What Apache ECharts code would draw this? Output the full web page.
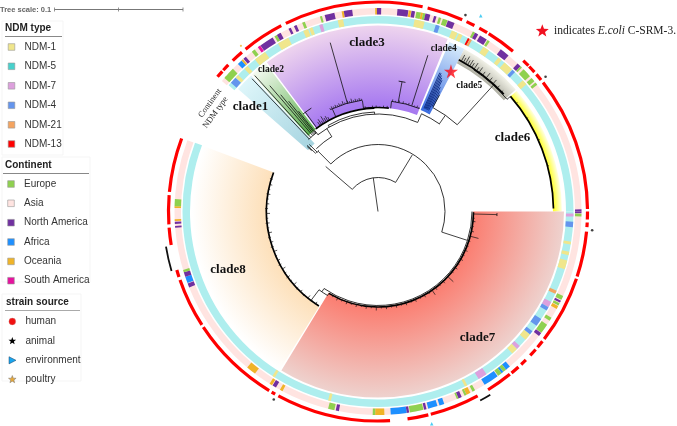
<!DOCTYPE html>
<html><head><meta charset="utf-8">
<style>html,body{margin:0;padding:0;background:#fff}#c{width:677px;height:426px}</style>
<script src="https://cdn.jsdelivr.net/npm/echarts@6/dist/echarts.min.js"></script>
</head><body><div id="c"></div>
<script>
// ---------- DATA (angles in degrees clockwise from 3 o'clock, radii in tree units) ----------
const ndmNames = ['NDM-1','NDM-5','NDM-7','NDM-4','NDM-21','NDM-13'];
const continentNames = ['Europe','Asia','North America','Africa','Oceania','South America'];
const sourceNames = ['human','animal','environment','poultry'];

const ndmBase = [[0,200.6],[220.2,360]];
const continentBase = [[0,200.5],[219.9,360]];

const ndmCells = [
 [0.6,1.5,'NDM-7'],[3,4.6,'NDM-4'],[8.9,9.7,'NDM-1'],[11.9,12.9,'NDM-1'],[14.5,17.2,'NDM-1'],[23.9,24.9,'NDM-21'],
 [27.6,29.3,'NDM-7'],[29.3,30.4,'NDM-4'],[33.4,35.8,'NDM-4'],[37.8,39,'NDM-4'],[39,41,'NDM-1'],[43.5,44.7,'NDM-7'],
 [44.7,46.6,'NDM-1'],[56.3,59,'NDM-7'],[62.8,63.6,'NDM-1'],[104,104.8,'NDM-1'],[121.9,122.7,'NDM-1'],
 [221.2,223.2,'NDM-4'],[223.3,224.3,'NDM-1'],[226.9,228.1,'NDM-1'],[231,234.7,'NDM-1'],[239.2,242.7,'NDM-1'],
 [247.5,249,'NDM-1'],[249.4,250.4,'NDM-1'],[252.5,253.5,'NDM-7'],[258.1,259.7,'NDM-1'],[280.8,283.8,'NDM-1'],
 [287.2,288.4,'NDM-4'],[292.2,294,'NDM-1'],[294.4,295.6,'NDM-1'],[297.4,298,'NDM-13'],[298,298.7,'NDM-21'],
 [302.6,304.6,'NDM-1'],[308,309.2,'NDM-1'],[310.3,313.3,'NDM-1'],[313.5,314.5,'NDM-4'],[317.8,319.4,'NDM-1']
];
const continentCells = [
 [359.4,360,'North America'],[0,0.5,'North America'],[0.6,1.4,'Europe'],[24.5,25.7,'Europe'],[26,26.6,'North America'],
 [26.8,27.5,'Europe'],[27.7,28.6,'Oceania'],[31.5,32.5,'Europe'],[33.8,36.6,'Europe'],[36.7,37.7,'North America'],
 [49.6,51,'Africa'],[51,52,'Europe'],[52,52.6,'Africa'],[52.6,53.8,'Europe'],[54,58.4,'Africa'],[61.5,62.3,'Europe'],
 [63,64.2,'Oceania'],[64.2,64.8,'Europe'],[65.7,66.7,'North America'],[66.7,67.2,'Europe'],[71,72.4,'Africa'],
 [73,75.7,'Africa'],[76.2,76.9,'North America'],[77.1,81,'Europe'],[81.2,81.9,'North America'],[81.9,86.4,'Africa'],
 [88.2,90.8,'Oceania'],[90.8,91.5,'Europe'],[101.1,102,'North America'],[102.4,104.2,'Europe'],[118,118.8,'Oceania'],
 [120.1,121.2,'North America'],[121.4,122.2,'Oceania'],[127.2,130,'Oceania'],[158.1,159.3,'North America'],
 [159.4,161.3,'Africa'],[161.3,162.6,'North America'],[162.6,163.3,'Europe'],[175.4,175.9,'North America'],
 [176.5,177.1,'North America'],[177.3,177.8,'Oceania'],[181,181.5,'Oceania'],[181.5,183.5,'Europe'],
 [221,221.8,'Europe'],[221.5,224.5,'Europe'],[226.5,227.9,'Africa'],[227.9,228.4,'Oceania'],[228.6,229.5,'North America'],
 [231.7,232.7,'Europe'],[233.8,234.6,'South America'],[234.7,238.8,'North America'],[239.4,240.2,'Europe'],
 [240.2,241.4,'North America'],[243.9,244.6,'North America'],[245.6,246.4,'North America'],[248.1,248.9,'Europe'],
 [253.4,254,'Europe'],[254.8,257.6,'North America'],[259.7,260.3,'Oceania'],[260.3,262.7,'North America'],
 [269.2,269.7,'Oceania'],[269.7,270.9,'North America'],[275.5,278.6,'North America'],[278.7,279.4,'Oceania'],
 [279.5,280.5,'North America'],[280.9,282.2,'Europe'],[282.2,282.8,'Oceania'],[282.8,283.5,'Europe'],
 [283.5,284.9,'North America'],[286,286.7,'North America'],[287.4,288.1,'Europe'],[288.6,290,'Europe'],
 [290.1,292.1,'North America'],[297.8,298.5,'Europe'],[298.5,299.5,'North America'],[300.1,302.3,'North America'],
 [302.6,303.3,'Europe'],[307.1,309.9,'North America'],[313.3,314.5,'North America'],[314.5,315,'Europe'],
 [315.7,318.3,'Europe'],[319,320.2,'Europe'],[320.7,321.5,'Europe']
];
const humanArcs = [
 [0,2.2],[3,4.3],[5.5,18.1],[18.7,37.5],[38.3,40.4],[41.2,43.4],[45.1,46.9],[47.9,50.4],[51,58.3],[61.6,75.4],
 [76.1,81.9],[86.7,118.4],[119.4,120.5],[121.3,146.5],[147.2,160.9],[161.8,163.8],[170.8,175.6],[176.5,184.5],
 [185.4,200.4],[220,222],[222.4,224.4],[226.1,229.5],[230.8,242.5],[243.9,282.3],[283.7,293.7],[295,297.4],
 [298.9,301.4],[301.9,310.1],[313.9,315.9],[316.2,318.3],[319.1,321.1],[322,359.3]
];
const animalArcs = [[58.5,61.6],[163.9,170.6]];
const animalDots = [[215,5],[215,119],[215,294],[215,321.2]];
const environmentDots = [[219,75.8],[221,297.7]];
const poultryDots = [[215,230.4]];
const highlightStar = [[158,297.5]];

const cladeNames = ['clade1','clade2','clade3','clade4','clade5','clade6','clade7','clade8'];
// [radius inner, radius outer, angle start, angle end]
const cladeFans = [
 [93,186,221.2,227],[103,186,227.4,232.8],[104,186,233.3,292],[110,184,292.8,298],
 [168,184,298,318.5],[175,184,319,360],[95,186,0,121.3],[112,186,121.8,200.5]
];
// [radius, angle start, angle end]
const treeArcs = [
 [34,220.8,301.2],[67,225.2,360],[67,0,17.9],[94,18,125],[85,223.5,226],[88,225.5,238.5],[97.5,232,294],
 [99.5,240,268],[107,294,305.2],[117.5,297.8,312.4],[171,304,319],[98,121,127],[94,0,18],
 [100,226,232],[112.5,245,262],[111,277,292],[132,279,282],[123,232.5,237.2],[119,0.8,2.2]
];
const thickArcs = [
 [95.5,0.5,121],[111.5,122,200.5],[103.5,233,268],[104,262,276],[175.5,319,359],[172,298,317]
];
// [angle, radius from, radius to]
const treeRadials = [
 [262,0,34],[220.7,34,69],[301.2,34,66],[225.2,67,85],[17.9,67,94],[238.3,88,97.5],[240,97.5,99.5],[268,97.5,99.5],
 [294,97.5,107],[305,107,117.5],[312.4,117.5,171],[319,171,175.5],[125,94,98],[127,98,111],[121,98,96],
 [226.5,100,183],[227.8,100,183.5],[229.3,100,166],[230.2,100,152],[231,100,142],[231.6,100,128],[232,97,103],
 [254.2,112,175.5],[287.7,111,164],[280.5,111,132],[233.8,103,123],[223,85,97],[224.3,85,96],[222.5,90,96],
 [297.8,118,132],[246,104,112],[262,104,112],[277,104,111]
];
const blueBranches = [
 [294,113,152],[294.5,113,152],[295,113,150],[295.5,113,148],[296,113,146],[296.6,113,139],[297.2,118,135]
];
const leafBranches = [
 [1.5,95,119],[15,96,104],[43,96,103],[55.5,96,101],[4,95,97],[6,95,98],[9,95,97],[12,95,98],[18,95,97],[21,95,97],[24,95,98],[27,95,97],
 [30,95,98],[33,95,97],[36,95,98],[39,95,97],[47,95,98],[50,95,97],[53,95,98],[58,95,97],[61,95,98],[64,95,97],[67,95,98],[70,95,97],
 [73,95,98],[76,95,97],[79,95,98],[82,95,97],[85,95,98],[88,95,97],[91,95,99],[94,95,97],[97,95,98],[100,95,97],[103,95,98],[106,95,97],
 [109,95,98],[112,95,97],[115,95,98],[118,95,97],
 [124,109,112],[126.5,110,112],[129,108,112],[131.5,110,113],[134,109,112],[136.5,110,113],[139,108,112],[141.5,110,112],[144,109,113],
 [146.5,110,112],[149,108,112],[151.5,110,113],[154,109,112],[156.5,110,112],[159,108,112],[161.5,110,113],[164,109,112],[166.5,110,113],
 [169,108,112],[171.5,110,112],[174,109,113],[176.5,110,112],[179,108,112],[181.5,110,113],[184,109,112],[186.5,110,112],[189,109,113],
 [191.5,110,112],[194,109,112],[197,110,113],
 [236,104,108],[237,104,110],[238,104,107],[239,104,111],[240,104,108],[241,104,109],[242,104,107],
 [245,112.5,114],[246,112.5,115],[247,112.5,114],[248,112.5,115],[249,112.5,114],[250,112.5,115],[251,112.5,114],[252,112.5,116],[253,112.5,114],
 [254.5,112.5,115],[255.5,112.5,114],[256.5,112.5,116],[257.5,112.5,114],[258.5,112.5,115],[259.5,112.5,114],[260.5,112.5,115],[261.5,112.5,114],
 [263,104,106],[265,104,105],[267,104,106],[269,104,106],[271,104,105],[273,104,106],[275,104,106],
 [277.5,111,113],[279,111,112],[281,111,113],[283,111,113],[284.5,111,112],[286,111,113],[289,111,112],[290.5,111,113],[291.5,111,112],
 [299,172,179],[299.8,172,177],[300.6,172,180],[301.4,172,177],[302.2,172,179],[303,172,177],[304,172,179],[305,172,176],
 [306,172,178],[307.5,172,176],[309,172,178],[310.5,172,176],[312,172,177],[314,172,175],[316,172,174],
 [322,175.5,177],[328,175.5,177],[336,175.5,177],[345,175.5,177]
];

// ---------- COLOURS ----------
const ndmColors = {'NDM-1':'#f0e68c','NDM-5':'#48d1cc','NDM-7':'#dda0dd','NDM-4':'#6495ed','NDM-21':'#f4a460','NDM-13':'#ff0000'};
const continentColors = {'Europe':'#8fd14f','Asia':'#ffe4e1','North America':'#7030a0','Africa':'#1e90ff','Oceania':'#f0b428','South America':'#e6129e'};
const fanColors = [
 ['#a6d4e0','#def6fa'],['#58ad4a','#f4faf0'],['#a678f0','#eed4ee'],['#3a6ce0','#d8ecfc'],
 ['#b0b0a4','#f2f2e8'],['#ffff1e','#ffffe6'],['#fb7d70','#eed2ce'],['#fde0ba','#ffffff']
];
const RING_CYAN = '#aeeeee', RING_PINK = '#ffe4e1';

// ---------- DRAWING HELPERS ----------
function geo(api){
  const c = api.coord([0,0]);
  return {
    cx:c[0], cy:c[1],
    rad:r=>{const p=api.coord([r,0]);return Math.hypot(p[0]-c[0],p[1]-c[1]);},
    ang:a=>{const p=api.coord([100,a%360]);return Math.atan2(p[1]-c[1],p[0]-c[0]);},
    pt:(r,a)=>api.coord([r,a%360])
  };
}
function sector(g,r0,r1,a0,a1,fill){
  return {type:'sector',shape:{cx:g.cx,cy:g.cy,r0:g.rad(r0),r:g.rad(r1),startAngle:g.ang(a0),endAngle:g.ang(a1),clockwise:true},style:{fill:fill},silent:true};
}
function base(name,arr,render,z){
  return {type:'custom',name:name,coordinateSystem:'polar',silent:true,z:z,animation:false,clip:false,
    data:arr.map(d=>[d[0],d[1]]),
    encode:{radius:0,angle:1},
    renderItem:(p,api)=>render(arr[p.dataIndex],geo(api))};
}
function ring(name,arr,r0,r1,color,z){
  return base(name,arr,(d,g)=>sector(g,r0,r1,d[0],d[1],typeof color==='function'?color(d):color),z);
}
function arcs(name,arr,width,z){
  return base(name,arr,(d,g)=>({type:'arc',shape:{cx:g.cx,cy:g.cy,r:g.rad(d[0]),startAngle:g.ang(d[1]),endAngle:g.ang(d[2]),clockwise:true},
    style:{stroke:'#000',lineWidth:width,fill:null},silent:true}),z);
}
function radials(name,arr,width,color,z){
  return base(name,arr,(d,g)=>{const a=g.pt(d[1],d[0]),b=g.pt(d[2],d[0]);
    return {type:'line',shape:{x1:a[0],y1:a[1],x2:b[0],y2:b[1]},style:{stroke:color,lineWidth:width},silent:true};},z);
}
const STAR='path://M50 0L61 35 98 35 68 57 79 91 50 70 21 91 32 57 2 35 39 35Z';
function starPts(cx,cy,R){
  const p=[];for(let i=0;i<10;i++){const r=i%2?R*0.42:R,t=-Math.PI/2+i*Math.PI/5;p.push([cx+r*Math.cos(t),cy+r*Math.sin(t)]);}
  return p;
}
function dots(name,arr,symbol,size,color,border,z){
  return {type:'scatter',name:name,coordinateSystem:'polar',silent:true,z:z,animation:false,symbol:symbol,symbolSize:size,
    data:arr,itemStyle:{color:color,borderColor:border||color,borderWidth:border?0.4:0}};
}

// ---------- SERIES ----------
const cladeFanSeries = base('clades',cladeFans.map((f,i)=>[f[0],f[1],f[2],f[3],i]),(d,g)=>{
  const R=g.rad(186), ci=fanColors[d[4]];
  return sector(g,d[0],d[1],d[2],d[3],{type:'radial',x:g.cx,y:g.cy,r:R,global:true,
    colorStops:[{offset:0,color:ci[0]},{offset:g.rad(d[0])/R,color:ci[0]},{offset:g.rad(d[1])/R,color:ci[1]},{offset:1,color:ci[1]}]});
},2);

const series = [
  cladeFanSeries,
  ring('NDM ring',ndmBase,188,195.5,RING_CYAN,3),
  ring('NDM type',ndmCells,188,195.5,d=>ndmColors[d[2]],4),
  ring('Continent ring',continentBase,197,203.5,RING_PINK,3),
  ring('Continent',continentCells,197,203.5,d=>continentColors[d[2]],4),
  ring('human',humanArcs,207.9,211.1,'#ff0000',4),
  ring('animal',animalArcs,214,215.8,'#111',4),
  arcs('tree',treeArcs,0.8,6),
  arcs('tree thick',thickArcs,1.7,6),
  radials('tree radial',treeRadials,0.8,'#111',6),
  radials('clade4 branches',blueBranches,0.9,'#0d2a80',6),
  radials('leaves',leafBranches,0.7,'#111',6),
  dots('animal dots',animalDots,'circle',2.6,'#111',null,7),
  dots('environment',environmentDots,'triangle',3.5,'#1ec0f0',null,7),
  dots('poultry',poultryDots,'circle',2.2,'#f0b428',null,7),
  dots('highlight',highlightStar,STAR,14,'#ff0a14',null,8)
];

// ---------- LEGEND / TEXT ----------
const SANS='"Liberation Sans",Arial,sans-serif', SERIF='"Liberation Serif","Times New Roman",serif';
const g=[];
function txt(x,y,s,font,size,color,extra){
  g.push(Object.assign({type:'text',x:x,y:y,silent:true,z:20,style:Object.assign({text:s,font:(extra&&extra.weight||'normal')+' '+size+'px '+font,fill:color,textVerticalAlign:'middle',verticalAlign:'middle',textAlign:(extra&&extra.align)||'left'},extra&&extra.style||{})},extra&&extra.el||{}));
}
function panel(x,y,w,h){g.push({type:'rect',silent:true,z:10,shape:{x:x,y:y,width:w,height:h},style:{fill:'#fff',stroke:'#f5f5f5',lineWidth:1}});}
function hline(x1,x2,y,c,w){g.push({type:'line',silent:true,z:20,shape:{x1:x1,y1:y,x2:x2,y2:y},style:{stroke:c,lineWidth:w}});}
function square(x,y,c){g.push({type:'rect',silent:true,z:20,shape:{x:x-3.3,y:y-3.3,width:6.6,height:6.6},style:{fill:c,stroke:'#999',lineWidth:0.6}});}

// tree scale
txt(0,9.7,'Tree scale: 0.1',SANS,7.5,'#666',{weight:'bold'});
hline(54.5,183,9.5,'#777',1);
[54.5,118.5,183].forEach(x=>g.push({type:'line',silent:true,z:20,shape:{x1:x,y1:7.5,x2:x,y2:11.5},style:{stroke:'#777',lineWidth:0.8}}));

panel(2,21,61,134);
txt(5,28,'NDM type',SANS,10,'#222',{weight:'bold'});
hline(5,62,36.5,'#888',1);
const ndmY=[47,66.3,85.8,105.3,124.8,144];
ndmNames.forEach((n,i)=>{square(11.5,ndmY[i],ndmColors[n]);txt(24.5,ndmY[i],n,SANS,10,'#333');});

panel(2,157,88,125);
txt(5,165,'Continent',SANS,10,'#222',{weight:'bold'});
hline(3,89,173.5,'#888',1);
const contY=[184,203.3,222.7,242,261.4,280.7];
continentNames.forEach((n,i)=>{square(11,contY[i],continentColors[n]);txt(24,contY[i],n,SANS,10,'#333');});

panel(2,294,79,87);
txt(6,302.3,'strain source',SANS,10,'#222',{weight:'bold'});
hline(5,80,310.5,'#aaa',1);
const srcY=[321.5,341,360.3,379.5];
sourceNames.forEach((n,i)=>txt(25.5,srcY[i],n,SANS,10,'#333'));
g.push({type:'circle',silent:true,z:20,shape:{cx:12.3,cy:srcY[0],r:3.4},style:{fill:'#f01010',stroke:'#c88',lineWidth:0.4}});
g.push({type:'polygon',silent:true,z:20,shape:{points:starPts(12.3,srcY[1],4)},style:{fill:'#000'}});
g.push({type:'polygon',silent:true,z:20,shape:{points:[[9,srcY[2]-3.6],[16,srcY[2]],[9,srcY[2]+3.6]]},style:{fill:'#19a5ee',stroke:'#246',lineWidth:0.5}});
g.push({type:'polygon',silent:true,z:20,shape:{points:starPts(12.3,srcY[3],4)},style:{fill:'#e8a838',stroke:'#777',lineWidth:0.5}});

// clade labels
const cladeLabelPos=[[250.5,107,13],[271,70,9.5],[367,43,13],[443.7,49,9.5],[469.2,85.3,9.5],[512.5,137.7,13],[477.5,337.7,13],[228,269.3,13]];
cladeNames.forEach((n,i)=>txt(cladeLabelPos[i][0],cladeLabelPos[i][1],n,SERIF,cladeLabelPos[i][2],'#111',{weight:'bold',align:'center'}));

// ring labels
txt(210,103,'Continent',SERIF,8.5,'#222',{align:'center',el:{rotation:54*Math.PI/180}});
txt(215.5,112.5,'NDM type',SERIF,8.5,'#222',{align:'center',el:{rotation:54*Math.PI/180}});

// star note
g.push({type:'polygon',silent:true,z:20,shape:{points:starPts(542.3,31,6.8)},style:{fill:'#f01020'}});
g.push({type:'text',silent:true,z:20,x:554,y:31,style:{rich:{a:{font:'11.5px '+SERIF,fill:'#222'},b:{font:'italic 11.5px '+SERIF,fill:'#222'}},text:'{a|indicates }{b|E.coli}{a| C-SRM-3.}',verticalAlign:'middle',textVerticalAlign:'middle'}});

const chart=echarts.init(document.getElementById('c'),null,{renderer:'canvas'});
chart.setOption({
  animation:false,
  backgroundColor:'#fff',
  polar:{center:[378,211.5],radius:224},
  angleAxis:{type:'value',min:0,max:360,startAngle:0,clockwise:true,show:false},
  radiusAxis:{type:'value',min:0,max:224,show:false},
  series:series,
  graphic:{elements:g}
});
</script></body></html>
